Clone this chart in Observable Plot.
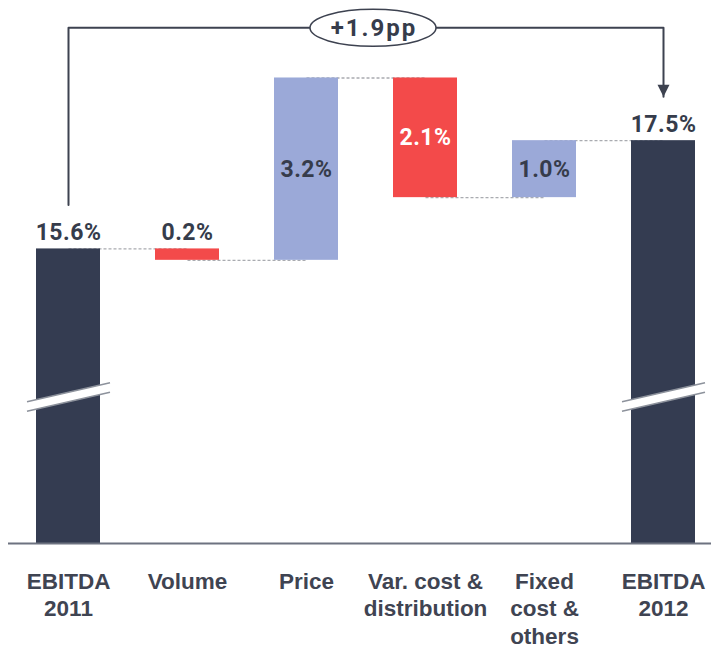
<!DOCTYPE html>
<html><head><meta charset="utf-8">
<script src="https://cdn.jsdelivr.net/npm/d3@7"></script>
<script src="https://cdn.jsdelivr.net/npm/@observablehq/plot@0.6"></script>
<style>
body{margin:0;background:#fff}
svg g[font-size="23"] text{letter-spacing:0.5px}
svg g[font-size="24"] text{letter-spacing:2px}
</style>
</head><body><div id="chart"></div>
<script>
// ---- data ----
const categories = ["EBITDA\n2011", "Volume", "Price", "Var. cost &\ndistribution", "Fixed\ncost &\nothers", "EBITDA\n2012"];
const changes = [15.6, -0.2, 3.2, -2.1, 1.0, 17.5];
const kinds = ["total", "decrease", "increase", "decrease", "increase", "total"];
const valueLabels = ["15.6%", "0.2%", "3.2%", "2.1%", "1.0%", "17.5%"];
const bridgeLabel = "+1.9pp";
const yDomain = [10.43, 19.96];   // broken axis: bottom of totals is not zero
const breakLevel = 13;

// ---- derived rows ----
let run = 0;
const rows = categories.map((cat, i) => {
  let y1, y2;
  if (kinds[i] === "total") { y1 = yDomain[0]; y2 = changes[i]; }
  else { y1 = run; y2 = run + changes[i]; }
  run = y2;
  const outside = kinds[i] === "total" || Math.abs(changes[i]) < 0.5;
  return {cat, kind: kinds[i], y1, y2, top: Math.max(y1, y2), mid: (y1 + y2) / 2,
          level: y2, label: valueLabels[i], outside};
});
const connectors = rows.slice(0, -1).map((d, i) => ({x1: d.cat, x2: rows[i + 1].cat, y: d.level}));
const totals = rows.filter(d => d.kind === "total");
const gap = 0.77;
const bracketTop = d3.max(rows, d => d.top) + 0.88;
const first = rows[0], last = rows[rows.length - 1];
const bracket = [
  {cat: first.cat, y: first.top + gap},
  {cat: first.cat, y: bracketTop},
  {cat: last.cat, y: bracketTop},
  {cat: last.cat, y: last.top + gap}
];

// ---- custom symbols ----
const ellipseSym = {draw(ctx) {
  const rx = 63, ry = 18.5, k = 0.5523;
  ctx.moveTo(-rx, 0);
  ctx.bezierCurveTo(-rx, -ry * k, -rx * k, -ry, 0, -ry);
  ctx.bezierCurveTo(rx * k, -ry, rx, -ry * k, rx, 0);
  ctx.bezierCurveTo(rx, ry * k, rx * k, ry, 0, ry);
  ctx.bezierCurveTo(-rx * k, ry, -rx, ry * k, -rx, 0);
  ctx.closePath();
}};
const arrowSym = {draw(ctx) {
  ctx.moveTo(-6, -12); ctx.lineTo(6, -12); ctx.lineTo(0, 0); ctx.closePath();
}};
const breakBand = {draw(ctx) {
  ctx.moveTo(-41.5, 4.75); ctx.lineTo(41.5, -14.25); ctx.lineTo(41.5, -4.75); ctx.lineTo(-41.5, 14.25); ctx.closePath();
}};
const breakLines = {draw(ctx) {
  ctx.moveTo(-41.5, 4.75); ctx.lineTo(41.5, -14.25);
  ctx.moveTo(-41.5, 14.25); ctx.lineTo(41.5, -4.75);
}};

const ink = "#363c4b";
const chart = Plot.plot({
  width: 711, height: 650,
  marginLeft: 8, marginRight: 0, marginTop: 0, marginBottom: 107,
  style: {fontFamily: "Roboto, sans-serif", background: "#fff"},
  x: {domain: categories, paddingInner: 0.463, paddingOuter: 0.18, align: 0.63, axis: null},
  y: {domain: yDomain, axis: null},
  color: {domain: ["total", "increase", "decrease"], range: ["#343c51", "#9ba9d8", "#f34a4a"]},
  marks: [
    Plot.link(connectors, {x1: "x1", x2: "x2", y1: "y", y2: "y", stroke: "#a9abb0", strokeWidth: 1.3, strokeDasharray: "3,2"}),
    Plot.barY(rows, {x: "cat", y1: "y1", y2: "y2", fill: "kind"}),
    Plot.dot(totals, {x: "cat", y: () => breakLevel, symbol: breakBand, fill: "white", stroke: "none"}),
    Plot.dot(totals, {x: "cat", y: () => breakLevel, symbol: breakLines, fill: "none", stroke: "#8d929c", strokeWidth: 1.6}),
    Plot.line(bracket, {x: "cat", y: "y", stroke: "#3d4250", strokeWidth: 2}),
    Plot.dot([last], {x: "cat", y: d => d.top + gap, symbol: arrowSym, fill: "#3d4250", stroke: "none"}),
    Plot.dot([bridgeLabel], {y: () => bracketTop, symbol: ellipseSym, fill: "white", stroke: "#3d4250", strokeWidth: 1.5, dx: 13}),
    Plot.text([bridgeLabel], {y: () => bracketTop, text: d => d, dx: 14, fontSize: 24, fontWeight: "bold", fill: ink}),
    Plot.text(rows.filter(d => d.outside), {x: "cat", y: "top", text: "label", lineAnchor: "bottom", dy: -9, fontSize: 23, fontWeight: "bold", fill: ink}),
    Plot.text(rows.filter(d => !d.outside), {x: "cat", y: "mid", text: "label", fontSize: 23, fontWeight: "bold",
      fill: d => d.kind === "decrease" ? "white" : ink}),
    Plot.ruleY([yDomain[0]], {stroke: "#6d7280", strokeWidth: 2}),
    Plot.axisX({tickSize: 0, tickPadding: 26, fontSize: 22.5, fontWeight: "bold", lineHeight: 1.22,
      fill: "#3f4452", fontFamily: "'Liberation Sans', Arial, sans-serif", label: null})
  ]
});
document.getElementById("chart").appendChild(chart);
</script>
</body></html>
